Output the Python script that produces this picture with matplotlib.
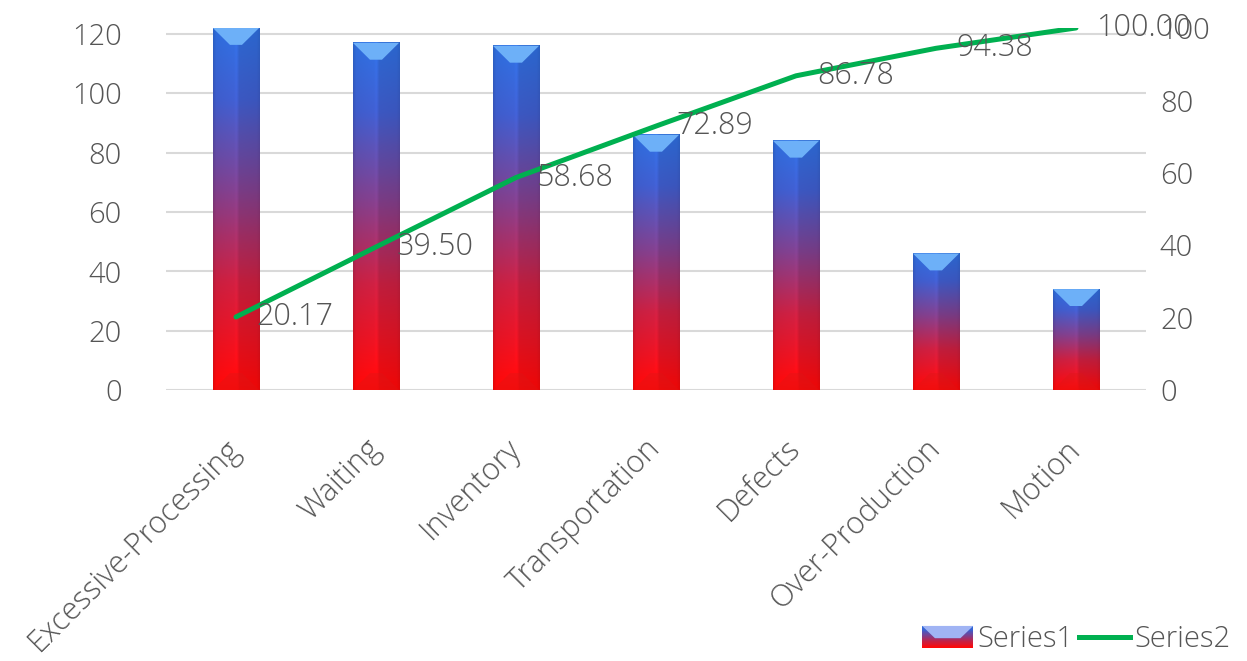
import numpy as np
import matplotlib
matplotlib.use("Agg")
import matplotlib.pyplot as plt
from matplotlib.colors import LinearSegmentedColormap
from matplotlib.patches import Polygon, Rectangle
from matplotlib.lines import Line2D
from matplotlib.legend_handler import HandlerBase

categories = ["Excessive-Processing", "Waiting", "Inventory", "Transportation",
              "Defects", "Over-Production", "Motion"]
series1 = [122, 117, 116, 86, 84, 46, 34]
series2 = [20.17, 39.50, 58.68, 72.89, 86.78, 94.38, 100.00]
left_ticks = [0, 20, 40, 60, 80, 100, 120]
right_ticks = [0, 20, 40, 60, 80, 100]

plt.rcParams['font.family'] = ['Open Sans', 'DejaVu Sans']
plt.rcParams['font.weight'] = 'light'
TXT = '#555555'

# blue at the top of each bar, red at its foot
grad = LinearSegmentedColormap.from_list(
    'bar', [(0, '#ff0808'), (0.3, '#c91f40'), (0.55, '#7f3f8c'),
            (0.8, '#3f5ccb'), (1, '#2e6ddc')])


class GradientHandler(HandlerBase):
    def create_artists(self, legend, orig_handle, xdescent, ydescent,
                       width, height, fontsize, trans):
        x0, y0 = -xdescent, -ydescent
        arts = []
        n = 24
        for i in range(n):
            r = Rectangle((x0, y0 + i * height / n), width, height / n + 0.2,
                          facecolor=grad(i / (n - 1)), lw=0, transform=trans)
            arts.append(r)
        cap = Polygon([(x0, y0 + height), (x0 + width, y0 + height),
                       (x0 + 0.75 * width, y0 + 0.45 * height),
                       (x0 + 0.25 * width, y0 + 0.45 * height)],
                      closed=True, facecolor='#a0b4f4', lw=0, transform=trans)
        arts.append(cap)
        return arts


fig = plt.figure(figsize=(12.47, 6.61), dpi=100)
ax = fig.add_axes([0.1331, 0.41, 0.7859, 0.5477])
ax2 = ax.twinx()

x = np.arange(len(categories))
bars = ax.bar(x, series1, width=0.33, color='none', lw=0)

u = np.linspace(0, 1, 60)
prof = np.interp(u, [0, 0.06, 0.45, 0.5, 0.56, 0.94, 1],
                 [0.9, 1.0, 1.04, 1.08, 0.95, 0.93, 0.88])
v = np.linspace(0, 1, 300)
rgb = grad(v)[:, :3]
img = np.clip(rgb[:, None, :] * prof[None, :, None], 0, 1)

for b in bars:
    bx, bw, bh = b.get_x(), b.get_width(), b.get_height()
    cx = bx + bw / 2
    ax.imshow(img, extent=[bx, bx + bw, 0, bh], origin='lower',
              aspect='auto', zorder=2, interpolation='bilinear')
    d = 5.7
    ax.add_patch(Polygon([(bx, bh), (bx + bw, bh), (cx + 0.13 * bw, bh - d),
                          (cx - 0.13 * bw, bh - d)], closed=True,
                         facecolor='#6db0f8', lw=0, zorder=3))
    ax.add_patch(Polygon([(bx, 0), (bx + bw, 0), (cx + 0.13 * bw, d),
                          (cx - 0.13 * bw, d)], closed=True,
                         facecolor='#d81818', alpha=0.35, lw=0, zorder=3))

ax.set_xlim(-0.5, len(categories) - 0.5)
ax.set_ylim(0, 122)
ax.set_yticks(left_ticks)
ax.grid(axis='y', color='#d9d9d9', lw=1.5)
ax.set_axisbelow(True)
ax.set_xticks(x, categories, rotation=45, ha='right', va='center',
              rotation_mode='anchor')
ax.tick_params(axis='x', length=0, pad=39, labelsize=22, labelcolor=TXT)
ax.tick_params(axis='y', length=0, pad=32, labelsize=21, labelcolor=TXT)

ax2.plot(x, series2, color='#00b050', lw=3.6, solid_capstyle='round')
for xi, yi in zip(x, series2):
    ax2.annotate(f"{yi:.2f}", (xi, yi), xytext=(15, 0),
                 textcoords='offset points', ha='left', va='center',
                 fontsize=22, color=TXT)
ax2.set_ylim(0, 100)
ax2.set_yticks(right_ticks)
ax2.tick_params(axis='y', length=0, pad=10, labelsize=21, labelcolor=TXT)

for a in (ax, ax2):
    for s in a.spines.values():
        s.set_visible(False)

handles = [Rectangle((0, 0), 1, 1), Line2D([], [], color='#00b050', lw=3.6)]
fig.legend(handles, ['Series1', 'Series2'], loc='lower right',
           bbox_to_anchor=(1.0, -0.014), ncol=2, frameon=False,
           fontsize=21, labelcolor=TXT, handlelength=1.75, handleheight=0.8,
           handletextpad=0.15, columnspacing=0.2, borderaxespad=0.15,
           handler_map={Rectangle: GradientHandler()})

fig.savefig('out.png', dpi=100)
